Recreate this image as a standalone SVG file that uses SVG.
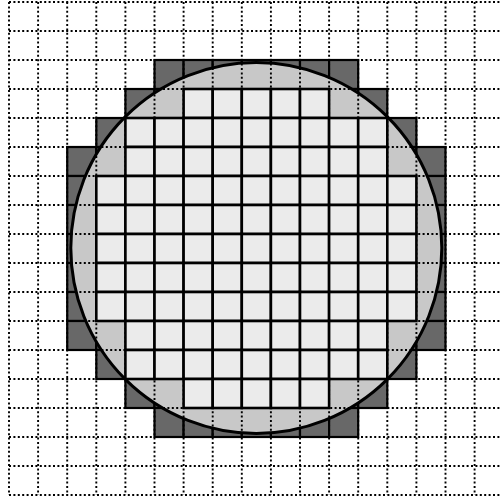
<svg xmlns="http://www.w3.org/2000/svg" width="500" height="501" viewBox="0 0 500 501">
<defs>
<style>
.g{stroke:#000;stroke-width:1.9;stroke-dasharray:2 2.4;fill:none}
.p{fill:#686868;stroke:#000;stroke-width:2.2}
.d{fill:#ebebeb;stroke:#000;stroke-width:2.6}
.w{fill:#c8c8c8;stroke:none}
.ws{fill:none;stroke:#000;stroke-width:3}
</style>
<rect id="pc" width="29.1" height="29" class="p"/>
<rect id="dc" width="29.1" height="29" class="d"/>
</defs>
<rect width="500" height="501" fill="#fff"/>
<g id="partial">
<use href="#pc" x="154.5" y="60"/><use href="#pc" x="183.6" y="60"/><use href="#pc" x="212.7" y="60"/><use href="#pc" x="241.8" y="60"/><use href="#pc" x="270.9" y="60"/><use href="#pc" x="300" y="60"/><use href="#pc" x="329.1" y="60"/>
<use href="#pc" x="125.4" y="89"/><use href="#pc" x="154.5" y="89"/><use href="#pc" x="329.1" y="89"/><use href="#pc" x="358.2" y="89"/>
<use href="#pc" x="96.3" y="118"/><use href="#pc" x="387.3" y="118"/>
<use href="#pc" x="67.2" y="147"/><use href="#pc" x="96.3" y="147"/><use href="#pc" x="387.3" y="147"/><use href="#pc" x="416.4" y="147"/>
<use href="#pc" x="67.2" y="176"/><use href="#pc" x="416.4" y="176"/>
<use href="#pc" x="67.2" y="205"/><use href="#pc" x="416.4" y="205"/>
<use href="#pc" x="67.2" y="234"/><use href="#pc" x="416.4" y="234"/>
<use href="#pc" x="67.2" y="263"/><use href="#pc" x="416.4" y="263"/>
<use href="#pc" x="67.2" y="292"/><use href="#pc" x="416.4" y="292"/>
<use href="#pc" x="67.2" y="321"/><use href="#pc" x="96.3" y="321"/><use href="#pc" x="387.3" y="321"/><use href="#pc" x="416.4" y="321"/>
<use href="#pc" x="96.3" y="350"/><use href="#pc" x="387.3" y="350"/>
<use href="#pc" x="125.4" y="379"/><use href="#pc" x="154.5" y="379"/><use href="#pc" x="329.1" y="379"/><use href="#pc" x="358.2" y="379"/>
<use href="#pc" x="154.5" y="408"/><use href="#pc" x="183.6" y="408"/><use href="#pc" x="212.7" y="408"/><use href="#pc" x="241.8" y="408"/><use href="#pc" x="270.9" y="408"/><use href="#pc" x="300" y="408"/><use href="#pc" x="329.1" y="408"/>
</g>
<circle id="wafer" cx="256.3" cy="248" r="185.5" class="w"/>
<g id="grid">
<path class="g" d="M9 2V495M38.1 2V495M67.2 2V495M96.3 2V495M125.4 2V495M154.5 2V495M183.6 2V495M212.7 2V495M241.8 2V495M270.9 2V495M300 2V495M329.1 2V495M358.2 2V495M387.3 2V495M416.4 2V495M445.5 2V495M474.6 2V495"/>
<path class="g" d="M9 2H500M9 31H500M9 60H500M9 89H500M9 118H500M9 147H500M9 176H500M9 205H500M9 234H500M9 263H500M9 292H500M9 321H500M9 350H500M9 379H500M9 408H500M9 437H500M9 466H500M9 495H500"/>
</g>
<circle cx="256.3" cy="248" r="185.5" class="ws"/>
<g id="dies">
<use href="#dc" x="183.6" y="89"/><use href="#dc" x="212.7" y="89"/><use href="#dc" x="241.8" y="89"/><use href="#dc" x="270.9" y="89"/><use href="#dc" x="300" y="89"/>
<use href="#dc" x="125.4" y="118"/><use href="#dc" x="154.5" y="118"/><use href="#dc" x="183.6" y="118"/><use href="#dc" x="212.7" y="118"/><use href="#dc" x="241.8" y="118"/><use href="#dc" x="270.9" y="118"/><use href="#dc" x="300" y="118"/><use href="#dc" x="329.1" y="118"/><use href="#dc" x="358.2" y="118"/>
<use href="#dc" x="125.4" y="147"/><use href="#dc" x="154.5" y="147"/><use href="#dc" x="183.6" y="147"/><use href="#dc" x="212.7" y="147"/><use href="#dc" x="241.8" y="147"/><use href="#dc" x="270.9" y="147"/><use href="#dc" x="300" y="147"/><use href="#dc" x="329.1" y="147"/><use href="#dc" x="358.2" y="147"/>
<use href="#dc" x="96.3" y="176"/><use href="#dc" x="125.4" y="176"/><use href="#dc" x="154.5" y="176"/><use href="#dc" x="183.6" y="176"/><use href="#dc" x="212.7" y="176"/><use href="#dc" x="241.8" y="176"/><use href="#dc" x="270.9" y="176"/><use href="#dc" x="300" y="176"/><use href="#dc" x="329.1" y="176"/><use href="#dc" x="358.2" y="176"/><use href="#dc" x="387.3" y="176"/>
<use href="#dc" x="96.3" y="205"/><use href="#dc" x="125.4" y="205"/><use href="#dc" x="154.5" y="205"/><use href="#dc" x="183.6" y="205"/><use href="#dc" x="212.7" y="205"/><use href="#dc" x="241.8" y="205"/><use href="#dc" x="270.9" y="205"/><use href="#dc" x="300" y="205"/><use href="#dc" x="329.1" y="205"/><use href="#dc" x="358.2" y="205"/><use href="#dc" x="387.3" y="205"/>
<use href="#dc" x="96.3" y="234"/><use href="#dc" x="125.4" y="234"/><use href="#dc" x="154.5" y="234"/><use href="#dc" x="183.6" y="234"/><use href="#dc" x="212.7" y="234"/><use href="#dc" x="241.8" y="234"/><use href="#dc" x="270.9" y="234"/><use href="#dc" x="300" y="234"/><use href="#dc" x="329.1" y="234"/><use href="#dc" x="358.2" y="234"/><use href="#dc" x="387.3" y="234"/>
<use href="#dc" x="96.3" y="263"/><use href="#dc" x="125.4" y="263"/><use href="#dc" x="154.5" y="263"/><use href="#dc" x="183.6" y="263"/><use href="#dc" x="212.7" y="263"/><use href="#dc" x="241.8" y="263"/><use href="#dc" x="270.9" y="263"/><use href="#dc" x="300" y="263"/><use href="#dc" x="329.1" y="263"/><use href="#dc" x="358.2" y="263"/><use href="#dc" x="387.3" y="263"/>
<use href="#dc" x="96.3" y="292"/><use href="#dc" x="125.4" y="292"/><use href="#dc" x="154.5" y="292"/><use href="#dc" x="183.6" y="292"/><use href="#dc" x="212.7" y="292"/><use href="#dc" x="241.8" y="292"/><use href="#dc" x="270.9" y="292"/><use href="#dc" x="300" y="292"/><use href="#dc" x="329.1" y="292"/><use href="#dc" x="358.2" y="292"/><use href="#dc" x="387.3" y="292"/>
<use href="#dc" x="125.4" y="321"/><use href="#dc" x="154.5" y="321"/><use href="#dc" x="183.6" y="321"/><use href="#dc" x="212.7" y="321"/><use href="#dc" x="241.8" y="321"/><use href="#dc" x="270.9" y="321"/><use href="#dc" x="300" y="321"/><use href="#dc" x="329.1" y="321"/><use href="#dc" x="358.2" y="321"/>
<use href="#dc" x="125.4" y="350"/><use href="#dc" x="154.5" y="350"/><use href="#dc" x="183.6" y="350"/><use href="#dc" x="212.7" y="350"/><use href="#dc" x="241.8" y="350"/><use href="#dc" x="270.9" y="350"/><use href="#dc" x="300" y="350"/><use href="#dc" x="329.1" y="350"/><use href="#dc" x="358.2" y="350"/>
<use href="#dc" x="183.6" y="379"/><use href="#dc" x="212.7" y="379"/><use href="#dc" x="241.8" y="379"/><use href="#dc" x="270.9" y="379"/><use href="#dc" x="300" y="379"/>
</g>
</svg>
